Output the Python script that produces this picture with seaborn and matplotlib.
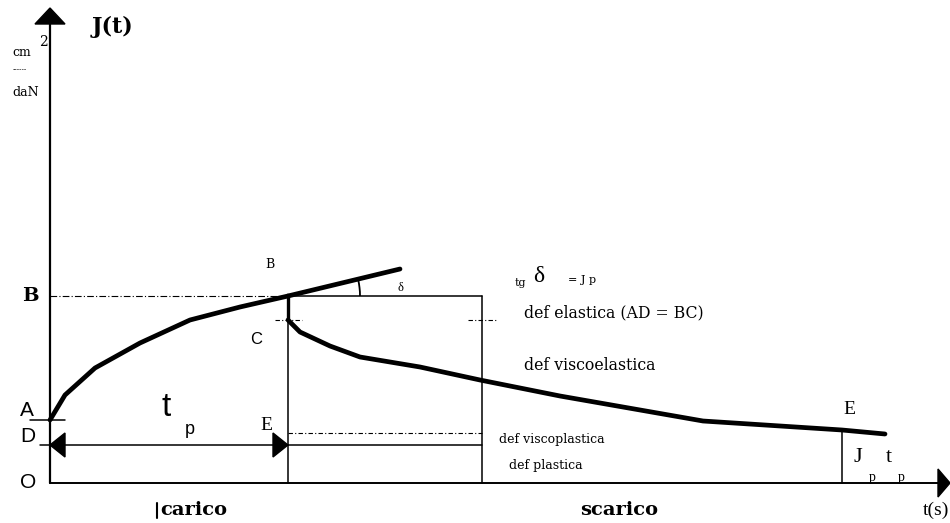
import matplotlib
matplotlib.use("Agg")
import matplotlib.pyplot as plt
import seaborn as sns
import numpy as np
import pandas as pd
from matplotlib.patches import Arc

sns.set_style("white")
plt.rcParams['font.family'] = ['DejaVu Serif', 'Liberation Serif']
plt.rcParams['text.color'] = 'black'

# ---- data (t in arbitrary time units, J in arbitrary compliance units) ----
load_t = [0, 15, 45, 90, 140, 190, 238]
load_J = [63, 88, 115, 140, 163, 176, 187]
tangent_t = [238, 350]
tangent_J = [187, 214]
drop_t = [238, 238]
drop_J = [187, 163]
rec_t = [238, 250, 280, 310, 370, 430, 510, 653, 792, 835]
rec_J = [163, 151, 137, 126, 116, 103, 87, 62, 53, 49]

J_A, J_B, J_C, J_D, J_visc = 63, 187, 163, 38, 50
t_p, t_end, t_E = 238, 432, 792
t_axis_end, J_axis_end = 900, 475

SERIF = ['DejaVu Serif', 'Liberation Serif']
TIMES = ['Liberation Serif', 'DejaVu Serif']
SANS = ['Liberation Sans', 'DejaVu Sans']

fig = plt.figure(figsize=(9.5, 5.23), dpi=100)
ax = fig.add_axes([0, 0, 1, 1])
ax.set_xlim(-50, 900)
ax.set_ylim(-40, 483)
ax.axis('off')

k = 'black'
thin = 1.1
thick = 3.4

# axes
ax.plot([0, 0], [0, J_axis_end - 14], color=k, lw=1.6)
ax.plot([0, t_axis_end - 10], [0, 0], color=k, lw=1.4)
ax.fill([-15, 15, 0], [J_axis_end - 16, J_axis_end - 16, J_axis_end], color=k)
ax.fill([t_axis_end - 12, t_axis_end - 12, t_axis_end], [-14, 14, 0], color=k)

# curves
sns.lineplot(x=load_t, y=load_J, ax=ax, color=k, lw=thick, sort=False, estimator=None)
sns.lineplot(x=tangent_t, y=tangent_J, ax=ax, color=k, lw=thick, sort=False, estimator=None)
sns.lineplot(x=drop_t, y=drop_J, ax=ax, color=k, lw=2.4, sort=False, estimator=None)
sns.lineplot(x=rec_t, y=rec_J, ax=ax, color=k, lw=thick, sort=False, estimator=None)

# construction lines
ax.plot([0, t_p], [J_B, J_B], color=k, lw=0.8, ls=(0, (6, 2, 1, 2)))
ax.plot([t_p, t_end], [J_B, J_B], color=k, lw=thin)
ax.plot([t_p, t_p], [0, J_B], color=k, lw=thin)
ax.plot([t_end, t_end], [0, J_B], color=k, lw=thin)
ax.plot([t_p - 13, t_p + 14], [J_C, J_C], color=k, lw=0.8, ls=(0, (4, 2, 1, 2)))
ax.plot([t_end - 14, t_end + 14], [J_C, J_C], color=k, lw=0.8, ls=(0, (4, 2, 1, 2)))
ax.plot([t_p, t_end], [J_visc, J_visc], color=k, lw=0.8, ls=(0, (4, 2, 1, 2)))
ax.plot([t_p, t_end], [J_D, J_D], color=k, lw=thin)
ax.plot([0, t_p], [J_D, J_D], color=k, lw=thin)
ax.plot([-10, 0], [J_D, J_D], color=k, lw=thin)
ax.plot([-20, 15], [J_A, J_A], color=k, lw=thin)
ax.plot([t_E, t_E], [0, 53], color=k, lw=thin)
# arrow heads for t_p
ax.fill([15, 15, 0], [J_D - 12, J_D + 12, J_D], color=k)
ax.fill([t_p - 15, t_p - 15, t_p], [J_D - 12, J_D + 12, J_D], color=k)

# delta arc
ang = np.degrees(np.arctan2(tangent_J[1] - tangent_J[0], tangent_t[1] - tangent_t[0]))
ax.add_patch(Arc((t_p, J_B), 144, 144, theta1=0, theta2=ang, color=k, lw=1.3))

# cursor-like bar before "carico"
ax.plot([107, 107], [-35, -20], color=k, lw=1.5)

# texts
def T(x, y, s, size, fam=SERIF, weight='normal', ha='left', va='center'):
    ax.text(x, y, s, fontsize=size, family=fam, weight=weight, ha=ha, va=va,
            color='black')

T(42, 456, 'J(t)', 16, weight='bold')
T(-38, 430, 'cm', 9)
T(-11, 441, '2', 10)
T(-37, 413, '------', 5)
T(-38, 391, 'daN', 9)
T(-28, 187, 'B', 14, weight='bold')
T(215, 218, 'B', 9)
T(200, 143, 'C', 12, fam=SANS)
T(-30, 73, 'A', 15, fam=SANS)
T(-30, 46, 'D', 15, fam=SANS)
T(-30, 0, 'O', 15, fam=SANS)
T(112, 75, 't', 24, fam=SANS)
T(135, 53, 'p', 13, fam=SANS)
T(210, 58, 'E', 14, fam=TIMES)
T(793, 73, 'E', 14, fam=TIMES)
T(347, 195, 'δ', 9, fam=TIMES)
T(465, 200, 'tg', 8)
T(483, 206, 'δ', 17, fam=TIMES)
T(518, 203, '= J p', 8)
T(474, 170, 'def elastica (AD = BC)', 11.3)
T(474, 118, 'def viscoelastica', 11.3)
T(449, 43, 'def viscoplastica', 9)
T(459, 17, 'def plastica', 9)
T(803, 25, 'J', 16, fam=TIMES)
T(819, 5, 'p', 10, fam=TIMES)
T(836, 25, 't', 16, fam=TIMES)
T(848, 5, 'p', 10, fam=TIMES)
T(110, -27, 'carico', 14, weight='bold')
T(530, -27, 'scarico', 14, weight='bold')
T(873, -27, 't(s)', 14, fam=TIMES)

fig.savefig('out.png', dpi=100)
